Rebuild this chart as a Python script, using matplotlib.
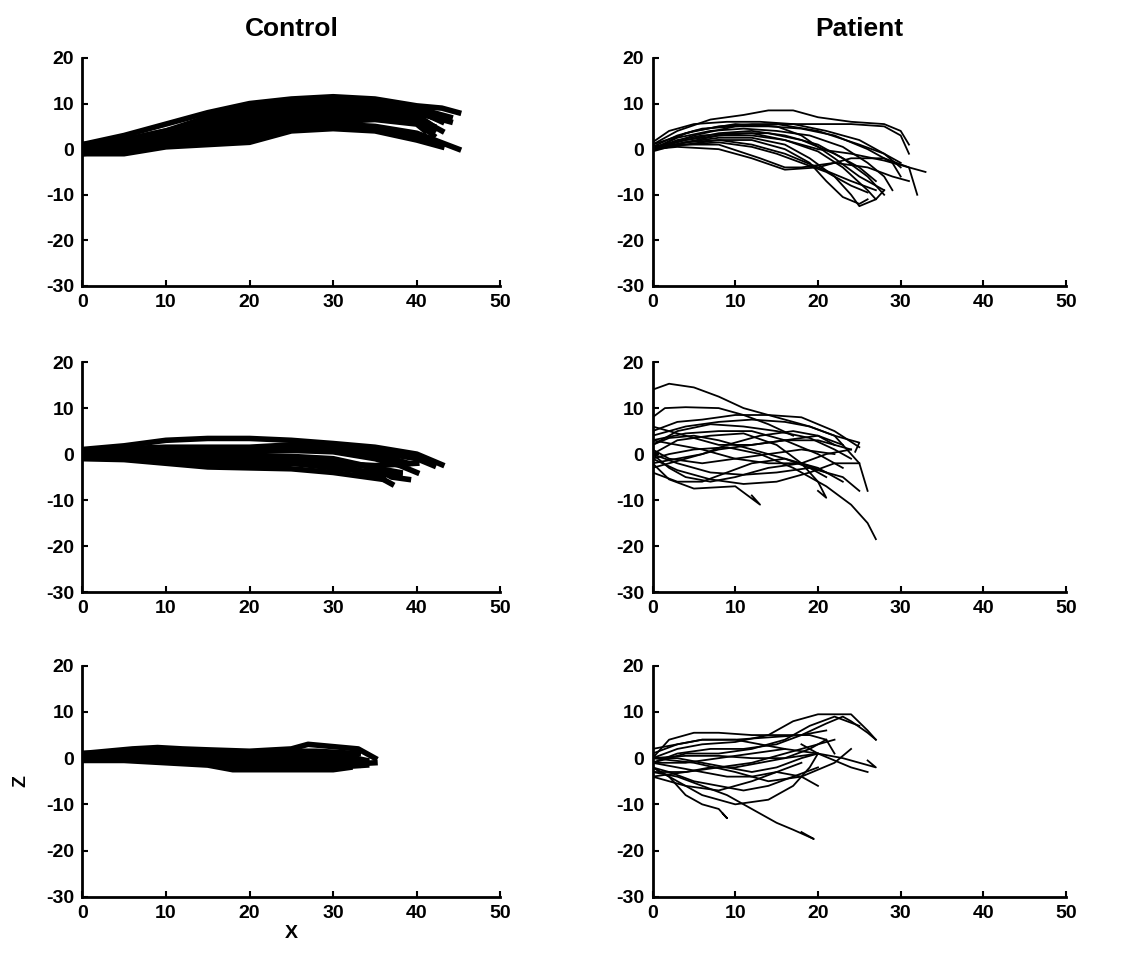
import matplotlib
matplotlib.use("Agg")
import matplotlib.pyplot as plt

plt.rcParams['font.family'] = ['Liberation Sans', 'DejaVu Sans']
plt.rcParams['font.weight'] = 'bold'
plt.rcParams['axes.unicode_minus'] = False

x_ticks = [0, 10, 20, 30, 40, 50]
z_ticks = [-30, -20, -10, 0, 10, 20]
col_titles = ['Control', 'Patient']

# control, row 1
ctrl1_x = [
    [0, 5, 10, 15, 20, 25, 30, 35, 40, 43, 45],
    [0, 5, 10, 15, 20, 25, 30, 35, 40, 44],
    [0, 5, 10, 15, 20, 25, 30, 35, 40, 43],
    [0, 5, 10, 15, 20, 25, 30, 35, 40, 42],
    [0, 5, 10, 15, 20, 25, 30, 35, 40, 43],
    [0, 5, 10, 15, 20, 25, 30, 35, 40, 42],
    [0, 5, 10, 15, 20, 25, 30, 35, 40, 42],
    [0, 5, 10, 15, 20, 25, 30, 35, 40, 41],
    [0, 5, 10, 15, 20, 25, 30, 35, 40, 45],
    [0, 5, 10, 15, 20, 25, 30, 35, 40, 43],
    [0, 5, 10, 15, 20, 25, 30, 35, 38, 42],
    [0, 5, 10, 15, 20, 25, 30, 35, 40, 44],
    [0, 5, 10, 15, 20, 25, 30, 35, 40, 43],
    [0, 5, 10, 15, 20, 25, 30, 35, 40, 42],
]
ctrl1_z = [
    [1, 3, 5.5, 8, 10, 11, 11.5, 11, 9.5, 9, 8],
    [0.5, 2, 4, 7, 9, 10, 10.5, 10.5, 9, 7],
    [0, 1.5, 3.5, 6, 8, 9, 10, 10, 8.5, 6],
    [0, 1, 3, 5, 7, 8.5, 9, 9, 7.5, 5],
    [-0.5, 1, 2.5, 4, 6, 7.5, 8, 8.5, 7, 4],
    [0, 0.5, 2, 3.5, 5, 7, 8, 8, 6.5, 4],
    [-1, 0, 1.5, 3, 4.5, 6, 7, 7, 6, 5],
    [0, 0.5, 1, 2.5, 4, 5.5, 6, 6.5, 5.5, 4],
    [-0.5, 0, 1, 2, 3, 5, 5.5, 5, 3.5, 0],
    [-1, -1, 0.5, 1, 1.5, 4, 4.5, 4, 2, 0.5],
    [0.5, 1.5, 3, 4.5, 6.5, 8, 9, 9.5, 9, 7],
    [1, 2, 4, 6, 7.5, 9, 10, 9.5, 8, 6],
    [0, 0, 1, 2, 2.5, 4.5, 5, 4.5, 3, 1],
    [0.5, 1, 2, 3, 4, 6.5, 7.5, 7.5, 6, 3],
]

# patient, row 1
pat1_x = [
    [0, 3, 7, 11, 14, 17, 20, 24, 28, 30, 31],
    [0, 4, 8, 12, 16, 20, 24, 28, 30, 31],
    [0, 3, 6, 10, 14, 18, 22, 26, 29, 30],
    [0, 3, 7, 11, 15, 19, 23, 26, 28, 29],
    [0, 4, 8, 12, 16, 20, 23, 26, 28],
    [0, 4, 8, 12, 16, 20, 23, 26, 27, 28],
    [0, 4, 8, 12, 16, 19, 22, 24, 25, 27],
    [0, 4, 8, 12, 16, 19, 21, 23, 25, 26],
    [0, 3, 8, 13, 16, 18, 22, 26, 29, 31],
    [0, 3, 8, 12, 16, 20, 24, 28, 31, 32],
    [0, 4, 8, 12, 16, 20, 24, 28, 31, 33],
    [0, 5, 10, 15, 20, 25, 28, 30],
    [0, 5, 10, 15, 18, 22, 25, 28],
    [0, 4, 8, 12, 16, 20, 24, 27],
    [0, 2, 5, 9, 13, 17, 21, 25, 28, 30],
    [0, 3, 6, 10, 14, 18, 22, 25, 27],
    [0, 4, 8, 12, 15, 18, 21, 24, 26],
]
pat1_z = [
    [1, 4, 6.5, 7.5, 8.5, 8.5, 7, 6, 5.5, 4, 1],
    [0, 3.5, 5, 5.5, 5.5, 5.5, 5.5, 5, 3, -1],
    [0.5, 3, 4.5, 5, 5, 4.5, 3, 0, -3, -6],
    [0, 2.5, 4, 4.5, 4, 3, 0.5, -3, -6, -9],
    [0, 2, 3.5, 4, 3, 1, -2, -6, -10],
    [-0.5, 1.5, 3, 3, 2, -0.5, -4, -9, -11, -9],
    [0, 1.5, 2.5, 2.5, 1, -2, -6, -10, -12.5, -11],
    [0, 1, 2, 2, 0, -3, -7, -10.5, -12, -11],
    [0, 1, 1, -2, -4, -4, -3, -4, -6, -7],
    [0, 0.5, 0, -2, -4.5, -4, -2, -2, -4, -10],
    [0.5, 2, 3, 3.5, 2, 0, -1, -2.5, -4, -5],
    [0, 3, 5, 5.5, 4, 1, -1, -3],
    [1, 4, 5.5, 5, 3, -2, -6, -9],
    [0, 1.5, 2, 1, -1, -4, -7, -9],
    [1.5, 4, 5.5, 6, 6, 5.5, 4, 2, -1, -4],
    [0, 2, 3, 3.5, 3.5, 2, -1, -4, -7],
    [0, 1, 1.5, 0.5, -1, -3, -5, -8, -9.5],
]

# control, row 2
ctrl2_x = [
    [0, 5, 10, 15, 20, 25, 30, 35, 40, 43],
    [0, 5, 10, 15, 20, 25, 30, 35, 40, 42],
    [0, 5, 10, 15, 20, 25, 30, 35, 38, 40],
    [0, 5, 10, 15, 20, 25, 30, 35, 37, 39],
    [0, 5, 10, 15, 20, 25, 30, 35, 37],
    [0, 5, 10, 15, 20, 25, 30, 34, 36],
    [0, 5, 10, 15, 20, 25, 30, 35, 38],
    [0, 5, 10, 15, 20, 25, 30, 33, 36],
    [0, 5, 10, 15, 20, 25, 30, 35, 39],
    [0, 5, 10, 15, 20, 25, 30, 35, 40],
    [0, 5, 10, 15, 20, 25, 30, 35, 38],
]
ctrl2_z = [
    [1, 1.8, 3, 3.4, 3.4, 3, 2.3, 1.5, 0, -2.3],
    [0.5, 1.2, 1.5, 1.5, 1.5, 2, 1.5, 0.5, -1, -2.5],
    [0, 0.5, 0.5, 0.5, 0.5, 0.8, 0.5, -1, -2.5, -4],
    [0, 0, -0.5, -0.5, -0.5, -0.5, -1, -3, -5, -5.5],
    [-0.5, -0.8, -1.5, -2, -2, -2, -2.5, -4.5, -6.5],
    [-1, -1.2, -2, -2.8, -3, -3.2, -4, -5, -5.5],
    [-0.5, -0.5, -1, -1.5, -1, -1, -1.5, -3, -4],
    [0, 0.5, 0, -0.5, -1, -1.5, -2.5, -3.5, -5],
    [0.5, 1, 1, 1, 1, 1.2, 1, 0, -2],
    [0, 0.5, 0, -1, -1.5, -1.5, -2, -2.5, -2],
    [0.5, 0.5, 0, -0.5, -1, -2, -3, -4, -4.5],
]

# patient, row 2
pat2_x = [
    [0, 2, 5, 8, 11, 15, 19, 22, 25, 24.5],
    [0, 1.5, 4, 8, 11, 14, 17],
    [0, 3, 6, 10, 14, 18, 22, 25],
    [0, 3, 7, 11, 15, 19, 22, 24],
    [0, 3, 7, 11, 15, 18, 20, 21, 20],
    [0, 2, 5, 9, 13, 17, 21, 24, 26, 27],
    [0, 2, 5, 10, 13, 12],
    [0, 3, 7, 11, 15, 19, 23, 25],
    [0, 3, 7, 11, 15, 19, 22, 25],
    [0, 4, 8, 12, 16, 20, 23],
    [0, 4, 8, 12, 16, 20, 24],
    [0, 2, 6, 10, 14, 18, 22],
    [0, 4, 8, 12, 16, 19, 22, 25, 26],
    [0, 3, 6, 9, 12, 16, 20, 23],
    [0, 4, 8, 12, 16, 20, 22],
    [0, 2, 5, 8, 12, 16, 19, 21],
    [0, 3, 6, 9, 13, 17, 20, 23],
    [0, 2, 4, 7, 10, 14, 18, 21],
    [0, 3, 6, 10, 14, 18, 21, 24],
]
pat2_z = [
    [14, 15.3, 14.5, 12.5, 10, 8, 6, 4, 2.5, 0.5],
    [8, 10, 10.2, 10, 8.5, 6.5, 4],
    [5, 7, 7.5, 8.5, 8.5, 8, 5, 1.5],
    [2, 5, 6.5, 6, 5, 3.5, 1, -1],
    [0, 3, 4, 4.5, 2, -2, -6, -9.5, -8],
    [-1, 0, 1, 1.5, 0, -3, -7, -11, -15, -18.5],
    [-2, -5.5, -7.5, -7, -11, -9],
    [0, -2, -4, -4.5, -4, -3, -5, -8],
    [-1, -3.5, -5.5, -6.5, -6, -4, -2, -2],
    [3, 4.5, 5, 5, 3, 0, -3],
    [-3, -1, 1, 2, 3, 3, 1],
    [1, -1, -2, -1, 0, 1, 0],
    [4, 6, 7, 7.5, 7, 6, 4, -2, -8],
    [-4, -6, -6, -4, -2, -1, -3, -6],
    [6, 4, 2, 2, 3, 4, 2],
    [2, 3.5, 4, 3, 1, -1, -3, -5],
    [-2, -1, 0, 2, 4, 5, 4, 2],
    [0, -3, -5, -6, -5, -3, -2, -4],
    [3, 2, 1, -1, -2, -2, 0, 1],
]

# control, row 3
ctrl3_x = [
    [0, 3, 6, 9, 12, 15, 20, 25, 27, 30, 33, 35],
    [0, 5, 10, 15, 20, 25, 30, 34],
    [0, 5, 10, 15, 20, 25, 30, 34],
    [0, 5, 10, 15, 20, 25, 30, 33],
    [0, 5, 10, 15, 18, 22, 26, 30, 32],
    [0, 5, 10, 15, 20, 25, 30, 35],
    [0, 5, 10, 15, 20, 25, 30, 34],
    [0, 5, 10, 15, 20, 25, 28, 33],
]
ctrl3_z = [
    [1, 1.5, 2, 2.3, 2, 1.8, 1.5, 2, 3, 2.5, 2, 0],
    [0.5, 1, 1.5, 1, 0.5, 0.8, 1, -0.5],
    [0, 0.5, 0, 0, -0.5, 0, 0, -1],
    [0, 0, -0.5, -1, -1.5, -1, -1, -1.5],
    [-0.5, -0.5, -1, -1.5, -2.5, -2.5, -2.5, -2.5, -2],
    [0.5, 0.8, 1, 0.5, 0, -0.5, -1.5, -1],
    [0, 0.2, -0.3, -0.8, -2, -2, -2, -1.5],
    [1, 1.3, 1.5, 1.2, 1, 1.5, 1.5, 1],
]

# patient, row 3
pat3_x = [
    [0, 2, 5, 8, 12, 16, 19, 21, 22],
    [0, 3, 6, 10, 14, 17, 20, 24, 26, 27],
    [0, 3, 7, 11, 15, 18, 21, 23, 24, 26, 27],
    [0, 4, 8, 12, 16, 20, 23, 25, 27, 26],
    [0, 4, 8, 12, 16, 20, 24, 26],
    [0, 2, 4, 6, 8, 9, 8.5],
    [0, 3, 6, 9, 12, 15, 17, 19.5, 18],
    [0, 3, 6, 10, 14, 17, 19, 20, 18],
    [0, 4, 8, 12, 16, 20, 22],
    [0, 3, 6, 10, 14, 18, 21],
    [0, 4, 8, 12, 15, 18, 20],
    [0, 5, 10, 14, 18, 22, 24],
    [0, 4, 8, 12, 16, 19, 22, 25],
    [0, 3, 6, 10, 13, 16],
    [0, 3, 6, 9, 12, 15, 18],
    [0, 2, 5, 8, 11, 14, 17, 20],
    [0, 4, 7, 10, 13, 16, 19, 21],
    [0, 3, 6, 9, 12, 15, 18, 20],
]
pat3_z = [
    [0, 4, 5.5, 5.5, 5, 5, 5, 4, 1],
    [0, 2, 3, 3.5, 5, 8, 9.5, 9.5, 6, 4],
    [-1, 1, 2, 2, 3, 5, 7.5, 9, 8, 5.5, 4],
    [0, 0.5, 0.5, 0, 0, 1, 0, -1, -2, -0.5],
    [-1, -1, 0, 1, 2, 1, -2, -3],
    [-2, -4, -8, -10, -11, -13, -12],
    [-3, -4, -6, -8, -11, -14, -15.5, -17.5, -16],
    [-2, -5, -8, -10, -9, -6, -2, 1, 3],
    [-3, -3, -2, -1, 1, 3, 4],
    [1, 3, 4, 4, 4.5, 5, 6],
    [-4, -6, -7, -5, -3, -4, -6],
    [0, -1, -3, -5, -4, -1, 2],
    [-1, 1, 1, 2, 4, 7, 9, 7],
    [2, 3, 4, 4, 3, 2],
    [-1, -2, -3, -4, -4, -3, -1],
    [-2, -3, -5, -6, -7, -6, -4, -2],
    [-4, -3, -2, -2, -1, 0, 2, 4],
    [0, 0, -1, -2, -3, -2, 0, 1],
]

panels = [
    [(ctrl1_x, ctrl1_z), (pat1_x, pat1_z)],
    [(ctrl2_x, ctrl2_z), (pat2_x, pat2_z)],
    [(ctrl3_x, ctrl3_z), (pat3_x, pat3_z)],
]

fig = plt.figure(figsize=(11.27, 9.58), dpi=100)

lefts = [0.073, 0.579]
widths = [0.371, 0.367]
bottoms = [0.7015, 0.382, 0.064]
heights = [0.238, 0.240, 0.241]

for r in range(3):
    for c in range(2):
        ax = fig.add_axes([lefts[c], bottoms[r], widths[c], heights[r]])
        xs, zs = panels[r][c]
        lw = 4.0 if c == 0 else 1.3
        for x, z in zip(xs, zs):
            ax.plot(x, z, color='black', lw=lw, solid_joinstyle='round')
        ax.set_xlim(0, 50)
        ax.set_ylim(-30, 20)
        ax.set_xticks(x_ticks)
        ax.set_yticks(z_ticks)
        ax.spines['top'].set_visible(False)
        ax.spines['right'].set_visible(False)
        ax.spines['left'].set_linewidth(2)
        ax.spines['bottom'].set_linewidth(2)
        ax.tick_params(direction='in', length=4, width=1.5, labelsize=14, pad=6)
        if r == 0:
            ax.set_title(col_titles[c], fontsize=19, fontweight='bold', pad=16)
        if r == 2 and c == 0:
            ax.set_xlabel('X', fontsize=14, fontweight='bold', labelpad=2)
            ax.set_ylabel('Z', fontsize=14, fontweight='bold', labelpad=12)

fig.savefig('out.png', dpi=100)
